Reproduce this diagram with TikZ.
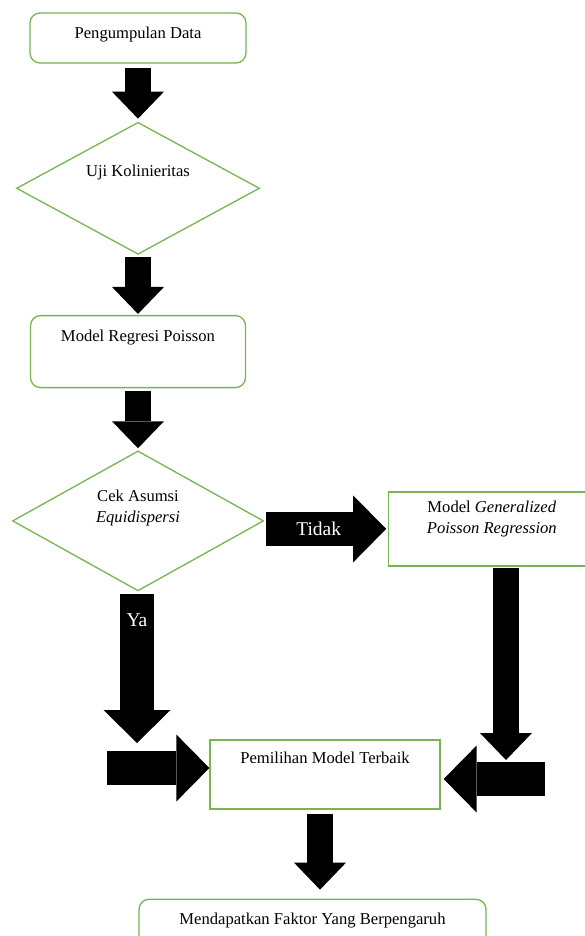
\documentclass[tikz,border=0pt]{standalone}
\usepackage{fontspec}
\setmainfont{Liberation Serif}
\usetikzlibrary{arrows.meta,positioning,shapes.geometric}

\definecolor{boxgreen}{RGB}{120,180,80}

\begin{document}
\begin{tikzpicture}[x=1pt,y=1pt,inner sep=2pt,font=\fontsize{16.6}{21}\selectfont,
    box/.style={draw=boxgreen,line width=1.3pt,fill=white,align=center,text height=12pt},
    roundbox/.style={box,rounded corners=10pt},
    decision/.style={box,diamond,aspect=1.8},
    flow/.style={line width=26pt,-{Triangle[width=52pt,length=27pt,line width=0pt]}},
    bigflow/.style={line width=34pt,-{Triangle[width=67pt,length=33pt,line width=0pt]}},
    answer/.style={text=white,font=\fontsize{19.5}{22}\selectfont}]

    \useasboundingbox (0,0) rectangle (584,-936);

    \node[roundbox,minimum width=216pt,minimum height=50pt,text depth=10.6pt] (pd) at (138,-38) {Pengumpulan Data};
    \node[decision,minimum width=243pt,minimum height=132pt,text depth=36.6pt] (uk) [below=58pt of pd] {Uji Kolinieritas};
    \node[roundbox,minimum width=215pt,minimum height=72pt,text depth=32.6pt] (mrp) [below=60pt of uk] {Model Regresi Poisson};
    \node[decision,minimum width=251pt,minimum height=140pt,text height=14pt,text depth=10.6pt] (cek) [below=62pt of mrp] {Cek Asumsi\\\textit{Equidispersi}};
    \node[box,minimum width=206pt,minimum height=74pt,text height=16pt,text depth=6.6pt] (gpr) [right=124pt of cek,yshift=-8pt] {Model \textit{Generalized}\\\textit{Poisson Regression}};
    \node[box,minimum width=230pt,minimum height=69pt,text depth=33.6pt] (pmt) at (325,-774.5) {Pemilihan Model Terbaik};
    \node[roundbox,minimum width=347pt,minimum height=50pt,text depth=12.6pt] (mfp) [below=89pt of pmt,xshift=-12.5pt] {Mendapatkan Faktor Yang Berpengaruh};

    \coordinate (yaend) at (137,-743);
    \coordinate (gprend) at (506,-760);
    \coordinate (leftin) at (107,-768);
    \coordinate (rightin) at (545,-779);

    \path
        (pd.south) edge[flow,shorten <=4pt,shorten >=3pt] (uk.north)
        (uk.south) edge[flow,shorten <=2pt,shorten >=1pt] (mrp.north)
        (mrp.south) edge[flow,shorten <=3pt,shorten >=2pt] (cek.north)
        (cek.east |- gpr.west) edge[bigflow,shorten <=2pt,shorten >=2pt] node[answer,pos=0.44]{Tidak} (gpr.west)
        (yaend |- cek.south) edge[bigflow,shorten <=2pt] node[answer,pos=0.19]{Ya} (yaend)
        (gprend |- gpr.south) edge[flow,shorten <=1pt] (gprend)
        (leftin) edge[bigflow] (pmt.west |- leftin)
        (rightin) edge[bigflow,shorten >=3pt] (pmt.east |- rightin)
        ([xshift=-5pt]pmt.south) edge[flow,shorten <=4pt,shorten >=9pt] ([xshift=-5pt]pmt.south |- mfp.north)
    ;
\end{tikzpicture}
\end{document}
